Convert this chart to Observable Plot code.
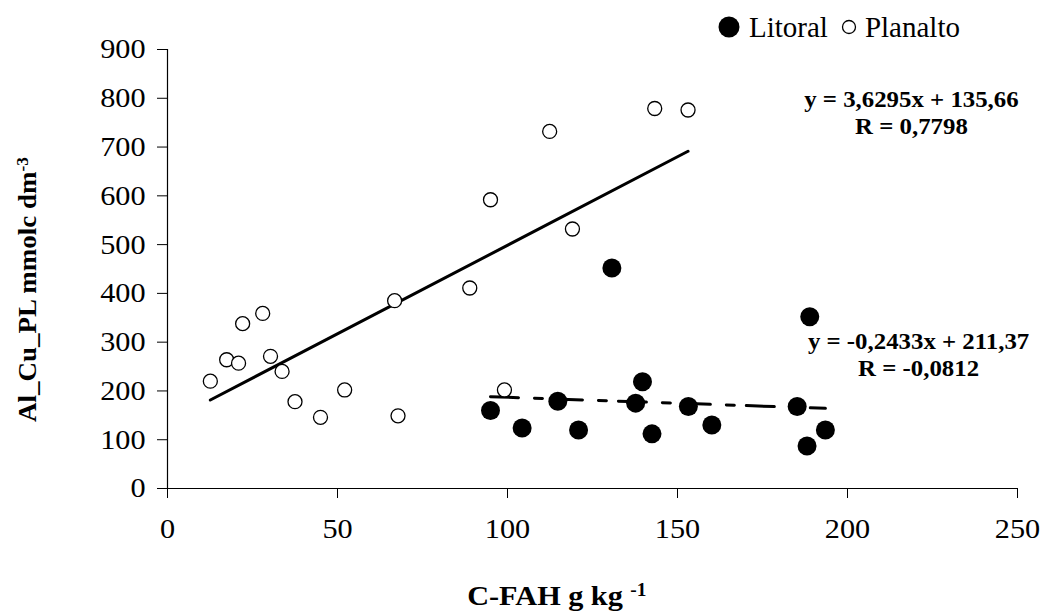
<!DOCTYPE html>
<html><head><meta charset="utf-8">
<script src="https://cdn.jsdelivr.net/npm/d3@7"></script>
<script src="https://cdn.jsdelivr.net/npm/@observablehq/plot@0.6"></script>
<style>
body{margin:0;background:#fff;}
#wrap{position:relative;width:1043px;height:614px;overflow:hidden;font-family:"Liberation Serif","DejaVu Serif",serif;}
#legend{position:absolute;left:718px;top:10px;font-size:29px;line-height:34px;color:#000;white-space:nowrap;display:flex;align-items:center;}
#legend svg{display:block;}
#chart{position:absolute;left:0;top:0;}
#chart svg text{font-family:"Liberation Serif","DejaVu Serif",serif;}
</style></head><body>
<div id="wrap"><div id="chart"></div><div id="legend"></div></div>
<script>
// ---- data ----
const seriesNames = ["Litoral", "Planalto"];
const planaltoX = [12.6, 17.4, 20.9, 22.1, 28.0, 30.3, 33.7, 37.5, 45.0, 52.1, 66.8, 67.8, 88.9, 95.0, 99.1, 112.4, 119.1, 143.3, 153.1];
const planaltoY = [220, 264, 257, 338, 359, 271, 240, 178, 146, 202, 385, 149, 411, 592, 202, 732, 532, 779, 776];
const litoralX = [95.0, 104.3, 114.8, 120.9, 130.7, 137.7, 139.7, 142.5, 153.2, 160.1, 185.2, 188.1, 188.9, 193.5];
const litoralY = [160, 124, 179, 120, 452, 175, 219, 112, 168, 130, 168, 87, 352, 120];
const xTicks = [0, 50, 100, 150, 200, 250];
const yTicks = [0, 100, 200, 300, 400, 500, 600, 700, 800, 900];
const fitSlope = [-0.2433, 3.6295];      // Litoral, Planalto
const fitIntercept = [211.37, 135.66];
const eqText = ["y = -0,2433x + 211,37\nR = -0,0812", "y = 3,6295x + 135,66\nR = 0,7798"];
const eqX = [220.9, 218.8];
const eqY = [276, 772];
const xTitle = "C-FAH g kg";
const xTitleSup = "-1";
const yTitle = "Al_Cu_PL mmolc dm";
const yTitleSup = "-3";

// ---- build tables ----
const planalto = planaltoX.map((x, i) => ({x, y: planaltoY[i]}));
const litoral = litoralX.map((x, i) => ({x, y: litoralY[i]}));
const fitLine = (xs, k) => d3.extent(xs).map(x => ({x, y: fitSlope[k] * x + fitIntercept[k]}));
const litFit = fitLine(litoralX, 0);
const plaFit = fitLine(planaltoX, 1);
const eqs = eqText.map((t, i) => ({t, x: eqX[i], y: eqY[i]}));

const FONT = '"Liberation Serif","DejaVu Serif",serif';
const svg = Plot.plot({
  width: 1043, height: 614,
  marginLeft: 167, marginRight: 26, marginTop: 49, marginBottom: 126,
  style: {fontFamily: FONT, fontSize: "28px", color: "#000", background: "#fff", overflow: "visible"},
  x: {domain: [0, 250]},
  y: {domain: [0, 900]},
  marks: [
    Plot.axisY({ticks: yTicks, tickSize: 10, tickPadding: 12, label: yTitle, labelAnchor: "center", labelOffset: 149, fontSize: 28, stroke: "#000"}),
    Plot.axisX({ticks: xTicks, tickSize: 10, tickPadding: 20, label: xTitle, labelAnchor: "center", labelOffset: 116, fontSize: 28, stroke: "#000"}),
    Plot.ruleX([0], {stroke: "#000", strokeWidth: 1.2}),
    Plot.ruleY([0], {stroke: "#000", strokeWidth: 1.2}),
    Plot.line(plaFit, {x: "x", y: "y", stroke: "#000", strokeWidth: 3}),
    Plot.line(litFit, {x: "x", y: "y", stroke: "#000", strokeWidth: 3, strokeDasharray: "28,16,8,12"}),
    Plot.dot(planalto, {x: "x", y: "y", r: 7, fill: "#fff", stroke: "#000", strokeWidth: 1.3}),
    Plot.dot(litoral, {x: "x", y: "y", r: 9.5, fill: "#000", stroke: "none"}),
    Plot.text(eqs, {x: "x", y: "y", text: "t", fontWeight: "bold", fontSize: 23, lineHeight: 1.15, textAnchor: "middle", fill: "#000"})
  ]
});
document.getElementById("chart").appendChild(svg);

// superscripts and bold for axis titles
function styleTitle(sel, main, sup, size, dx) {
  const t = d3.select(svg).select(sel);
  if (t.empty()) return;
  t.text(null).attr("font-weight", "bold").attr("font-size", size).attr("dx", dx);
  t.append("tspan").text(main);
  t.append("tspan").attr("dy", "-0.5em").attr("font-size", Math.round(size * 0.65)).text(sup);
}
styleTitle('[aria-label="x-axis label"] text', xTitle + " ", xTitleSup, 28, -33);
styleTitle('[aria-label="y-axis label"] text', yTitle, yTitleSup, 25, -19);

// the reference's type is slightly wide: stretch glyphs horizontally about their anchor
d3.select(svg).selectAll("text").each(function() {
  const tr = this.getAttribute("transform");
  if (tr && tr.includes("translate")) this.setAttribute("transform", tr + " scale(1.08,1)");
});

// legend
const leg = d3.select("#legend");
seriesNames.forEach((name, i) => {
  if (i === 0) {
    const s = leg.append("svg").attr("width", 22).attr("height", 22);
    s.append("circle").attr("cx", 11).attr("cy", 11).attr("r", 10.5).attr("fill", "#000");
    leg.append("span").style("margin", "0 13px 0 9px").text(name);
  } else {
    const s = leg.append("svg").attr("width", 16).attr("height", 16);
    s.append("circle").attr("cx", 8).attr("cy", 8).attr("r", 6.5).attr("fill", "none").attr("stroke", "#000").attr("stroke-width", 1.3);
    leg.append("span").style("margin", "0 0 0 8px").text(name);
  }
});
</script>
</body></html>
